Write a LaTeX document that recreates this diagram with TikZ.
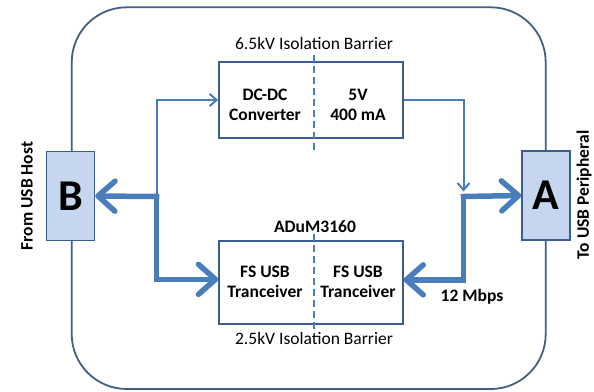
\documentclass[tikz,border=0pt]{standalone}
\usepackage{fontspec}
\setmainfont{Carlito}
\usetikzlibrary{arrows.meta}
\definecolor{arrowblue}{HTML}{4A7EBB}
\definecolor{boxline}{HTML}{3A5F8C}
\definecolor{outerline}{HTML}{435F82}
\definecolor{fillblue}{HTML}{C5D6EE}
\tikzset{
  blockbox/.style={draw=boxline, line width=1.6pt, minimum width=183.7pt, inner sep=0pt},
  conbox/.style={draw=boxline, line width=1.4pt, fill=fillblue, minimum width=48pt, minimum height=89pt, inner sep=0pt, font=\bfseries\fontsize{44}{44}\selectfont},
  boxtext/.style={align=center, font=\bfseries\fontsize{17.5}{20.5}\selectfont, inner sep=0pt},
  bartext/.style={font=\fontsize{17.5}{20}\selectfont, inner sep=0pt},
  sidetext/.style={rotate=90, font=\bfseries\fontsize{17.5}{20}\selectfont, inner sep=0pt},
  thickarrow/.style={draw=arrowblue, line width=5.5pt, line cap=rect, -{Straight Barb[round,length=17pt,width=30pt]}},
  thinarrow/.style={draw=arrowblue, line width=2pt, -{Straight Barb[length=7pt,width=12pt]}},
  barrier/.style={draw=arrowblue, line width=1.5pt, dash pattern=on 7pt off 4pt},
}
\begin{document}
\begin{tikzpicture}[x=1pt, y=-1pt]
\useasboundingbox (0,0) rectangle (594,391);
% outer rounded board
\draw[outerline, line width=1.8pt, rounded corners=55pt] (71.7,7.3) rectangle (545.7,389);
% blocks
\node[blockbox, minimum height=76pt] (top) at (310.85,100) {};
\node[blockbox, minimum height=83.3pt] (bot) at (310.85,282.35) {};
% barriers
\coordinate (d1) at (314,55);
\coordinate (d2) at (314,152);
\coordinate (d3) at (314,234);
\coordinate (d4) at (314,330);
\draw[barrier] (d1) -- (d2);
\draw[barrier] (d3) -- (d4);
% block texts
\node[boxtext] (dcdc) at (265,105) {DC-DC\\Converter};
\node[boxtext] (fivev) at (358,105) {5V\\400 mA};
\node[boxtext] (fsl) at (265,282) {FS USB\\Tranceiver};
\node[boxtext] (fsr) at (358,282) {FS USB\\Tranceiver};
% labels
\node[bartext] (b65) at (314,43.5) {6.5kV Isolation Barrier};
\node[bartext] (b25) at (314,338) {2.5kV Isolation Barrier};
\node[boxtext] (adum) at (315,226.7) {ADuM3160};
\node[boxtext] (mbps) at (472,297) {12 Mbps};
% connectors
\node[conbox] (B) at (70.5,196) {B};
\node[conbox] (A) at (546,195.5) {A};
\node[sidetext] (host) at (27,196) {From USB Host};
\node[sidetext] (periph) at (584,195) {To USB Peripheral};
% junctions
\coordinate (j1) at (156.7,196.5);
\coordinate (j2) at (463.5,196.5);
% thin power arrows
\draw[thinarrow] (j1) |- (top.west);
\draw[thinarrow, shorten >=5pt] (top.east) -| (j2);
% thick data arrows
\draw[thickarrow] (j1) -- (B.east);
\draw[thickarrow] (j1) |- ([yshift=3pt]bot.west);
\draw[thickarrow] (j2) -- (A.west);
\draw[thickarrow] (j2) |- ([yshift=2.5pt]bot.east);
\end{tikzpicture}
\end{document}
